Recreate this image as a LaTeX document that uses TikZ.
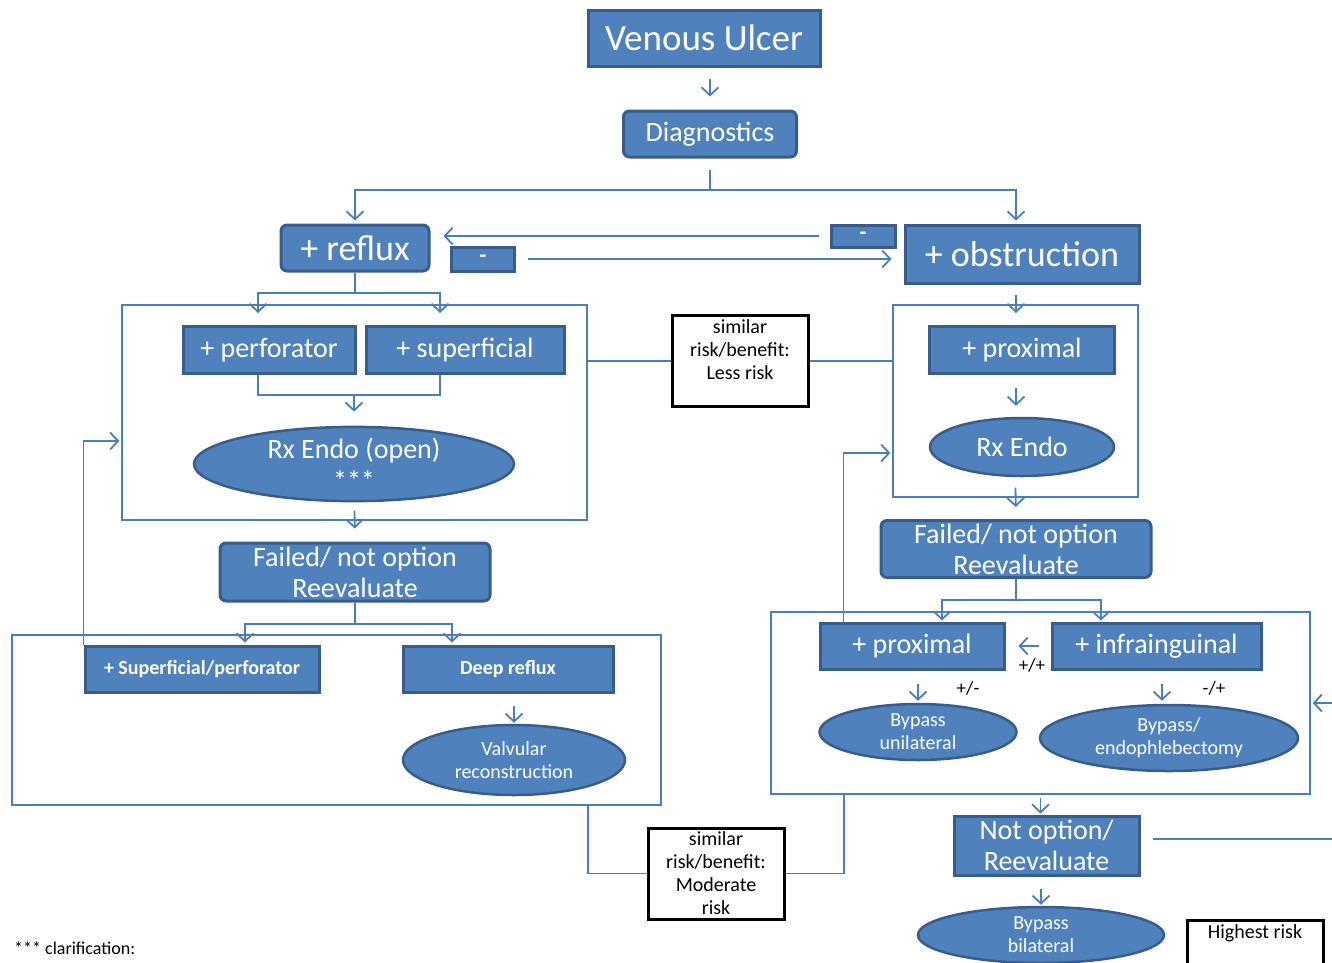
\documentclass[tikz,border=0pt]{standalone}
\usepackage{fontspec}
\setmainfont{Carlito}
\usetikzlibrary{arrows.meta,shapes.geometric}
\definecolor{boxblue}{HTML}{4F81BD}
\definecolor{boxedge}{HTML}{385D8A}
\definecolor{wireblue}{HTML}{4A7EBB}
\tikzset{
  blk/.style={draw=boxedge, fill=boxblue, line width=3pt, text=white, inner sep=0pt, align=center},
  rblk/.style={blk, rounded corners=6pt},
  oval/.style={blk, ellipse, line width=2.5pt},
  boxframe/.style={draw=wireblue, line width=1.3pt, inner sep=0pt},
  riskbox/.style={draw=black, line width=3pt, fill=white, align=center, inner sep=0pt,
    minimum width=136pt, minimum height=91pt, font=\fontsize{20}{23}\selectfont},
  wire/.style={draw=wireblue, line width=1.8pt},
  flow/.style={wire, -{Straight Barb[length=8pt,width=17pt,line width=1.8pt]}},
  sign/.style={font=\fontsize{19}{20}\selectfont, inner sep=0pt},
  big/.style={font=\fontsize{36}{40}\selectfont},
  mid/.style={font=\fontsize{28}{31}\selectfont},
  small/.style={font=\fontsize{20}{23}\selectfont},
}
\begin{document}
\begin{tikzpicture}[x=1pt,y=-1pt]
  \useasboundingbox (0,0) rectangle (1332,962);
  \clip (0,0) rectangle (1332,962);

  % top of the tree
  \node[blk, minimum width=232pt, minimum height=56pt, font=\fontsize{37}{40}\selectfont] (ulcer) at (704,38) {Venous Ulcer};
  \node[rblk, mid, minimum width=173pt, minimum height=46pt] (diag) at (710,134) {Diagnostics};
  \draw[flow, shorten <=11pt, shorten >=13pt] (ulcer.south -| diag.north) -- (diag.north);

  \node[rblk, big, minimum width=148pt, minimum height=46pt] (reflux) at (355,248) {+ reflux};
  \node[blk, big, minimum width=234pt, minimum height=58pt] (obstr) at (1022,254) {+ obstruction};
  \coordinate (split1) at (710,190);
  \draw[wire, shorten <=11pt] (diag.south) -- (split1);
  \draw[flow, shorten >=3pt] (split1) -| (reflux.north);
  \draw[flow, shorten >=3pt] (split1) -| (obstr.north -| 1016,0);

  \node[blk, minimum width=64pt, minimum height=22pt, font=\bfseries\fontsize{22}{22}\selectfont] (minusR) at (863,236) {-};
  \node[blk, minimum width=63pt, minimum height=24pt, font=\bfseries\fontsize{22}{22}\selectfont] (minusL) at (483,259) {-};
  \draw[flow, shorten <=11pt, shorten >=13pt] (minusR.west) -- (minusR.west -| reflux.east);
  \draw[flow, shorten <=12pt, shorten >=12pt] (minusL.east) -- (minusL.east -| obstr.west);

  % reflux side
  \node[boxframe, minimum width=465pt, minimum height=215pt] (lframe) at (354.5,412.5) {};
  \node[blk, mid, minimum width=172pt, minimum height=47pt] (perf) at (269,350) {+ perforator};
  \node[blk, mid, minimum width=198pt, minimum height=47pt] (sup) at (465,350) {+ superficial};
  \coordinate (split2) at (355,293);
  \draw[wire] (reflux.south) -- (split2);
  \draw[flow, shorten >=12pt] (split2) -| ([xshift=-11pt]perf.north);
  \draw[flow, shorten >=12pt] (split2) -| ([xshift=-25pt]sup.north);
  \node[oval, font=\fontsize{28}{26}\selectfont, minimum width=320pt, minimum height=66pt] (endo) at (354,464) {Rx Endo (open)\\\raisebox{-6pt}{***}};
  \coordinate (join1) at (354,395);
  \draw[wire] ([xshift=-11pt]perf.south) |- (join1) -| ([xshift=-25pt]sup.south);
  \draw[flow, shorten >=14pt] (join1) -- (endo.north);

  \node[rblk, mid, minimum width=270pt, minimum height=58pt] (failL) at (355,572) {Failed/ not option\\Reevaluate};
  \draw[flow, shorten >=13pt] ([yshift=10pt]lframe.south) -- (failL.north);

  \node[boxframe, minimum width=649pt, minimum height=170pt] (lbframe) at (336.5,720) {};
  \node[blk, minimum width=234pt, minimum height=46pt, font=\bfseries\fontsize{20}{22}\selectfont] (supperf) at (202,669) {+ Superficial/perforator};
  \node[blk, minimum width=210pt, minimum height=46pt, font=\bfseries\fontsize{20}{22}\selectfont] (deep) at (508,669) {Deep reflux};
  \coordinate (split3) at (355,624);
  \draw[wire] (failL.south) -- (split3);
  \draw[flow, shorten >=2pt] (split3) -| ([xshift=43pt]supperf.north);
  \draw[flow, shorten >=2pt] (split3) -| ([xshift=-56pt]deep.north);
  \node[oval, small, minimum width=222pt, minimum height=70pt] (valv) at (514,760) {Valvular\\reconstruction};
  \draw[flow, shorten <=12pt, shorten >=1pt] (valv.north |- deep.south) -- (valv.north);
  \draw[flow, shorten >=2pt] (supperf.north west) |- ([yshift=-28.5pt]lframe.west);

  % risk notes
  \node[riskbox] (risk1) at (740,361) {similar\\risk/benefit:\\Less risk\\\mbox{}};
  \node[riskbox] (risk2) at (716,873.5) {similar\\risk/benefit:\\Moderate\\risk};
  \node[riskbox, anchor=north] (risk3) at (1255,919) {Highest risk\\\mbox{}\\\mbox{}\\\mbox{}};

  % obstruction side
  \node[boxframe, minimum width=245pt, minimum height=192pt] (rframe) at (1015.5,401) {};
  \node[blk, mid, minimum width=185pt, minimum height=47pt] (prox1) at (1022,350) {+ proximal};
  \node[oval, mid, minimum width=184pt, minimum height=58pt] (rxendo) at (1022,447) {Rx Endo};
  \node[rblk, mid, minimum width=270pt, minimum height=57pt] (failR) at (1016,549) {Failed/ not option\\Reevaluate};
  \draw[flow, shorten <=10pt, shorten >=12pt] (obstr.south -| failR) -- (prox1.north -| failR);
  \draw[flow, shorten <=13pt, shorten >=11pt] (prox1.south -| failR) -- (rxendo.north -| failR);
  \draw[flow, shorten >=12pt] ([yshift=10pt]rframe.south) -- (failR.north);
  \draw[wire] (lframe.east |- risk1.west) -- (risk1.west);
  \draw[wire] (risk1.east) -- (rframe.west |- risk1.east);

  \node[boxframe, minimum width=539pt, minimum height=182pt] (rbframe) at (1040.5,703) {};
  \node[blk, mid, minimum width=184pt, minimum height=46pt] (prox2) at (912,646) {+ proximal};
  \node[blk, mid, minimum width=209pt, minimum height=46pt] (infra) at (1156.5,646) {+ infrainguinal};
  \coordinate (split4) at (1016,600);
  \draw[wire] (failR.south) -- (split4);
  \draw[flow, shorten >=1pt] (split4) -| ([xshift=30pt]prox2.north);
  \draw[flow, shorten >=1pt] (split4) -| ([xshift=-55.5pt]infra.north);
  \draw[flow, shorten <=12pt, shorten >=13pt] (infra.west) -- (prox2.east);
  \node[sign] (pp) at (1032,665) {+/+};

  \node[oval, small, minimum width=197pt, minimum height=56pt] (byp1) at (918,732) {Bypass\\unilateral};
  \node[oval, small, minimum width=258pt, minimum height=66pt] (byp2) at (1169,738) {Bypass/\\endophlebectomy};
  \draw[flow, shorten <=13pt, shorten >=2pt] (byp1.north |- prox2.south) -- (byp1.north);
  \draw[flow, shorten <=13pt, shorten >=3pt] ([xshift=-7pt]byp2.north |- infra.south) -- ([xshift=-7pt]byp2.north);
  \node[sign] (pm) at (968,688) {+/-};
  \node[sign] (mp) at (1214,688) {-/+};
  \draw[flow, shorten >=2pt] ([xshift=25pt]prox2.north west) |- ([yshift=-52pt]rframe.west);
  \coordinate (edgeR) at (1332,703);
  \draw[flow, shorten >=2pt] (edgeR) -- (rbframe.east);

  \node[blk, mid, minimum width=185pt, minimum height=59pt] (notopt) at (1046.5,845.5) {Not option/\\Reevaluate};
  \draw[flow, shorten <=3pt, shorten >=1pt] (rbframe.south) -- (rbframe.south |- notopt.north);
  \coordinate (edgeR2) at (1332,839);
  \draw[wire, shorten <=12pt] (notopt.east |- edgeR2) -- (edgeR2);
  \node[oval, small, minimum width=246pt, minimum height=56pt] (byp3) at (1041,935) {Bypass\\bilateral};
  \draw[flow, shorten <=12pt, shorten >=1pt] (notopt.south -| byp3.north) -- (byp3.north);

  \draw[wire] ([xshift=-74pt]lbframe.south east) |- (risk2.west);
  \draw[wire] (risk2.east) -| ([xshift=74pt]rbframe.south west);

  \node[anchor=west, inner sep=0pt, font=\fontsize{18}{20}\selectfont] (clar) at (14,948) {*** clarification:};
\end{tikzpicture}
\end{document}
